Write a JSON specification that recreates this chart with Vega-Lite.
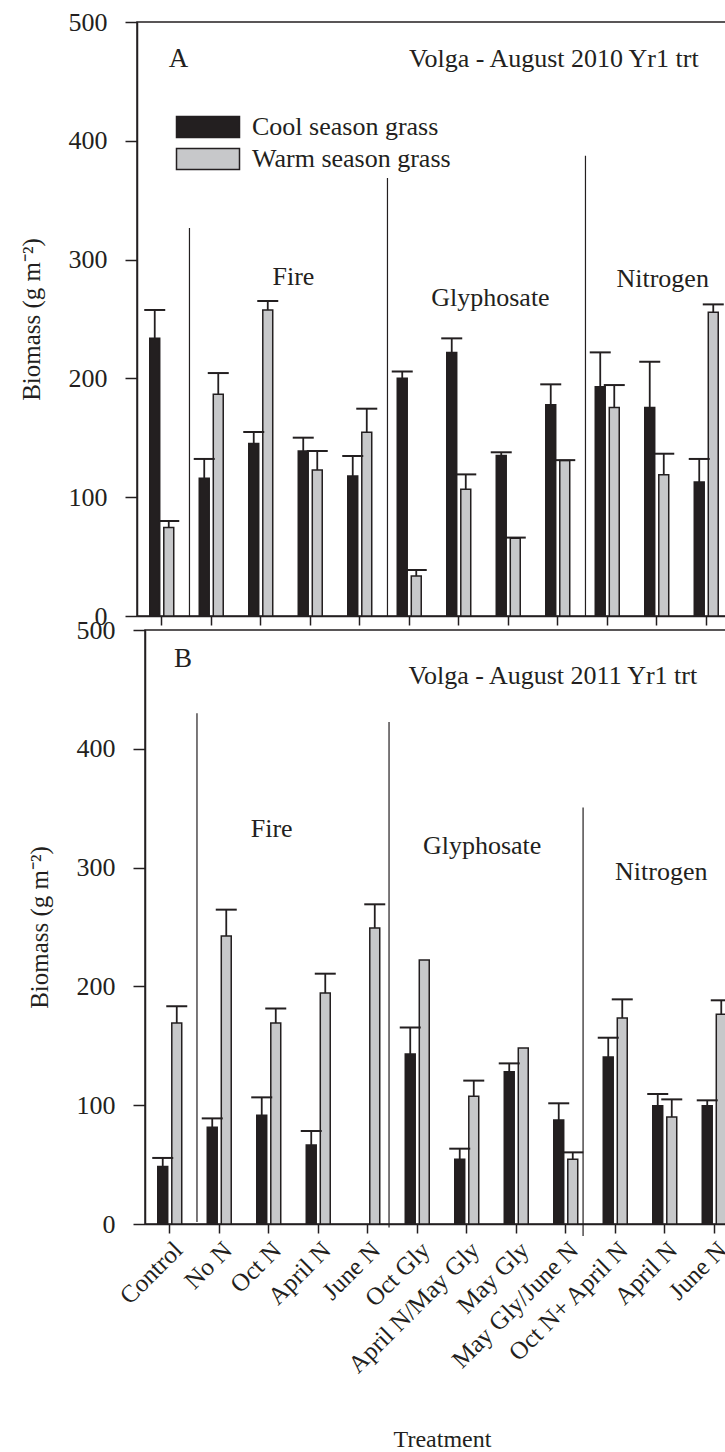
{
  "$schema": "https://vega.github.io/schema/vega-lite/v6.json",
  "padding": {"left": 18, "top": 8, "right": 0, "bottom": 0},
  "autosize": {"type": "pad"},
  "background": "white",
  "config": {
    "font": "Liberation Serif",
    "view": {"stroke": null},
    "axis": {
      "domainColor": "#231f20", "domainWidth": 1.5,
      "tickColor": "#231f20", "tickWidth": 1.5,
      "labelColor": "#231f20", "labelFont": "Liberation Serif", "labelFontSize": 26,
      "titleColor": "#231f20", "titleFont": "Liberation Serif", "titleFontSize": 25, "titleFontWeight": "normal",
      "grid": false
    }
  },
  "datasets": {
    "bars": [
      {"panel": "A", "cat": "Control", "grass": "Cool season grass", "mean": 233.7, "upper": 257.6},
      {"panel": "A", "cat": "Control", "grass": "Warm season grass", "mean": 74.6, "upper": 80},
      {"panel": "A", "cat": "No N", "grass": "Cool season grass", "mean": 115.9, "upper": 132.2},
      {"panel": "A", "cat": "No N", "grass": "Warm season grass", "mean": 186.6, "upper": 204.5},
      {"panel": "A", "cat": "Oct N", "grass": "Cool season grass", "mean": 145.1, "upper": 154.9},
      {"panel": "A", "cat": "Oct N", "grass": "Warm season grass", "mean": 257.6, "upper": 265.2},
      {"panel": "A", "cat": "April N", "grass": "Cool season grass", "mean": 138.9, "upper": 150.1},
      {"panel": "A", "cat": "April N", "grass": "Warm season grass", "mean": 122.9, "upper": 138.9},
      {"panel": "A", "cat": "June N", "grass": "Cool season grass", "mean": 117.8, "upper": 134.7},
      {"panel": "A", "cat": "June N", "grass": "Warm season grass", "mean": 154.6, "upper": 174.5},
      {"panel": "A", "cat": "Oct Gly", "grass": "Cool season grass", "mean": 200.1, "upper": 205.9},
      {"panel": "A", "cat": "Oct Gly", "grass": "Warm season grass", "mean": 33.7, "upper": 38.7},
      {"panel": "A", "cat": "April N/May Gly", "grass": "Cool season grass", "mean": 221.9, "upper": 233.7},
      {"panel": "A", "cat": "April N/May Gly", "grass": "Warm season grass", "mean": 106.6, "upper": 119.2},
      {"panel": "A", "cat": "May Gly", "grass": "Cool season grass", "mean": 135.2, "upper": 137.8},
      {"panel": "A", "cat": "May Gly", "grass": "Warm season grass", "mean": 65.4, "upper": 66},
      {"panel": "A", "cat": "May Gly/June N", "grass": "Cool season grass", "mean": 177.9, "upper": 195},
      {"panel": "A", "cat": "May Gly/June N", "grass": "Warm season grass", "mean": 130.8, "upper": 131.2},
      {"panel": "A", "cat": "Oct N+ April N", "grass": "Cool season grass", "mean": 193, "upper": 221.9},
      {"panel": "A", "cat": "Oct N+ April N", "grass": "Warm season grass", "mean": 175.6, "upper": 194.4},
      {"panel": "A", "cat": "April N ", "grass": "Cool season grass", "mean": 175.6, "upper": 214.1},
      {"panel": "A", "cat": "April N ", "grass": "Warm season grass", "mean": 119, "upper": 136.6},
      {"panel": "A", "cat": "June N ", "grass": "Cool season grass", "mean": 112.8, "upper": 132.2},
      {"panel": "A", "cat": "June N ", "grass": "Warm season grass", "mean": 255.6, "upper": 262.3},
      {"panel": "B", "cat": "Control", "grass": "Cool season grass", "mean": 48.3, "upper": 55.6},
      {"panel": "B", "cat": "Control", "grass": "Warm season grass", "mean": 169.2, "upper": 183.2},
      {"panel": "B", "cat": "No N", "grass": "Cool season grass", "mean": 81.4, "upper": 88.9},
      {"panel": "B", "cat": "No N", "grass": "Warm season grass", "mean": 242.4, "upper": 264.6},
      {"panel": "B", "cat": "Oct N", "grass": "Cool season grass", "mean": 91.5, "upper": 106.6},
      {"panel": "B", "cat": "Oct N", "grass": "Warm season grass", "mean": 169.2, "upper": 181.5},
      {"panel": "B", "cat": "April N", "grass": "Cool season grass", "mean": 66.5, "upper": 78.3},
      {"panel": "B", "cat": "April N", "grass": "Warm season grass", "mean": 194.4, "upper": 210.7},
      {"panel": "B", "cat": "June N", "grass": "Cool season grass", "mean": null, "upper": null},
      {"panel": "B", "cat": "June N", "grass": "Warm season grass", "mean": 249.2, "upper": 269.1},
      {"panel": "B", "cat": "Oct Gly", "grass": "Cool season grass", "mean": 143.1, "upper": 165.3},
      {"panel": "B", "cat": "Oct Gly", "grass": "Warm season grass", "mean": 222.2, "upper": null},
      {"panel": "B", "cat": "April N/May Gly", "grass": "Cool season grass", "mean": 54.4, "upper": 63.4},
      {"panel": "B", "cat": "April N/May Gly", "grass": "Warm season grass", "mean": 107.5, "upper": 120.7},
      {"panel": "B", "cat": "May Gly", "grass": "Cool season grass", "mean": 128.2, "upper": 135.2},
      {"panel": "B", "cat": "May Gly", "grass": "Warm season grass", "mean": 148.1, "upper": null},
      {"panel": "B", "cat": "May Gly/June N", "grass": "Cool season grass", "mean": 87.5, "upper": 101.6},
      {"panel": "B", "cat": "May Gly/June N", "grass": "Warm season grass", "mean": 54.4, "upper": 60.3},
      {"panel": "B", "cat": "Oct N+ April N", "grass": "Cool season grass", "mean": 140.6, "upper": 156.8},
      {"panel": "B", "cat": "Oct N+ April N", "grass": "Warm season grass", "mean": 173.4, "upper": 189.1},
      {"panel": "B", "cat": "April N ", "grass": "Cool season grass", "mean": 99.6, "upper": 109.4},
      {"panel": "B", "cat": "April N ", "grass": "Warm season grass", "mean": 90.1, "upper": 104.9},
      {"panel": "B", "cat": "June N ", "grass": "Cool season grass", "mean": 99.6, "upper": 104.1},
      {"panel": "B", "cat": "June N ", "grass": "Warm season grass", "mean": 176.5, "upper": 188.3}
    ],
    "seps": [
      {"panel": "A", "id": "a", "cat": "No N", "top": 326.6, "bottom": 0},
      {"panel": "A", "id": "a", "cat": "Oct Gly", "top": 368.7, "bottom": 0},
      {"panel": "A", "id": "a", "cat": "Oct N+ April N", "top": 387.5, "bottom": 0},
      {"panel": "B", "id": "b1", "cat": "No N", "top": 429.9, "bottom": 1.7},
      {"panel": "B", "id": "b2", "cat": "June N", "top": 422.6, "bottom": -3},
      {"panel": "B", "id": "b3", "cat": "May Gly/June N", "top": 350.5, "bottom": -10}
    ],
    "ann": [
      {"id": "A1", "label": "A", "cat": "Control", "y": 462},
      {"id": "A2", "label": "Volga - August 2010 Yr1 trt", "cat": "May Gly/June N", "y": 462},
      {"id": "A3", "label": "Fire", "cat": "April N", "y": 278.6},
      {"id": "A4", "label": "Glyphosate", "cat": "May Gly", "y": 261},
      {"id": "A5", "label": "Nitrogen", "cat": "April N ", "y": 277},
      {"id": "B1", "label": "B", "cat": "Control", "y": 468.9},
      {"id": "B2", "label": "Volga - August 2011 Yr1 trt", "cat": "May Gly/June N", "y": 454.6},
      {"id": "B3", "label": "Fire", "cat": "Oct N", "y": 325.8},
      {"id": "B4", "label": "Glyphosate", "cat": "April N/May Gly", "y": 311.8},
      {"id": "B5", "label": "Nitrogen", "cat": "April N ", "y": 289.3}
    ]
  },
  "bounds": "flush",
  "spacing": 14,
  "resolve": {
    "scale": {"x": "independent", "y": "independent", "xOffset": "independent", "color": "independent"},
    "legend": {"color": "independent"}
  },
  "vconcat": [
    {
      "width": 594,
      "height": 594,
      "view": {"stroke": "#231f20", "strokeWidth": 1.5},
      "layer": [
        {
          "data": {"name": "bars"},
          "transform": [{"filter": "datum.panel === 'A'"}],
          "mark": {"type": "bar", "stroke": "#231f20", "strokeWidth": 1.5},
          "encoding": {
            "x": {
              "field": "cat", "type": "nominal",
              "scale": {"domain": ["Control", "No N", "Oct N", "April N", "June N", "Oct Gly", "April N/May Gly", "May Gly", "May Gly/June N", "Oct N+ April N", "April N ", "June N "], "paddingInner": 0, "paddingOuter": 0},
              "axis": {"labels": false, "title": null, "tickSize": 9}
            },
            "xOffset": {"field": "grass", "type": "nominal", "scale": {"paddingInner": 0.29, "paddingOuter": 0.91}},
            "y": {
              "field": "mean", "type": "quantitative",
              "scale": {"domain": [0, 500], "nice": false},
              "axis": {"values": [0, 100, 200, 300, 400, 500], "title": "Biomass (g m⁻²)", "tickSize": 12, "labelPadding": 18, "titlePadding": 24}
            },
            "color": {
              "field": "grass", "type": "nominal",
              "scale": {"domain": ["Cool season grass", "Warm season grass"], "range": ["#231f20", "#c7c8ca"]},
              "legend": {
                "orient": "none", "legendX": 58, "legendY": 92, "title": null, "padding": 0,
                "symbolType": "M-3,-1H3V1H-3Z", "symbolSize": 441, "symbolStrokeColor": "#231f20", "symbolStrokeWidth": 1.5, "symbolOpacity": 1,
                "labelFont": "Liberation Serif", "labelFontSize": 26, "labelColor": "#231f20", "labelOffset": 31, "labelLimit": 400, "rowPadding": 4
              }
            }
          }
        },
        {
          "data": {"name": "bars"},
          "transform": [{"filter": "datum.panel === 'A' && datum.upper != null && datum.mean != null"}],
          "mark": {"type": "rule", "color": "#231f20", "strokeWidth": 1.8},
          "encoding": {
            "x": {"field": "cat", "type": "nominal"},
            "xOffset": {"field": "grass", "type": "nominal"},
            "y": {"field": "mean", "type": "quantitative"},
            "y2": {"field": "upper"}
          }
        },
        {
          "data": {"name": "bars"},
          "transform": [{"filter": "datum.panel === 'A' && datum.upper != null && datum.mean != null"}],
          "mark": {"type": "tick", "color": "#231f20", "thickness": 2, "size": 21, "orient": "horizontal", "opacity": 1},
          "encoding": {
            "x": {"field": "cat", "type": "nominal"},
            "xOffset": {"field": "grass", "type": "nominal"},
            "y": {"field": "upper", "type": "quantitative"}
          }
        },
        {
          "data": {"name": "seps"},
          "transform": [{"filter": "datum.panel === 'A'"}],
          "mark": {"type": "rule", "color": "#231f20", "strokeWidth": 1.2},
          "encoding": {
            "x": {"field": "cat", "type": "nominal", "bandPosition": 0.06},
            "y": {"field": "top", "type": "quantitative"},
            "y2": {"field": "bottom"}
          }
        },
        {
          "data": {"name": "ann"},
          "transform": [{"filter": "datum.id === 'A1'"}],
          "mark": {"type": "text", "fontSize": 27, "align": "center", "baseline": "alphabetic", "color": "#231f20"},
          "encoding": {"x": {"field": "cat", "type": "nominal", "bandPosition": 0.84}, "y": {"field": "y", "type": "quantitative"}, "text": {"field": "label"}}
        },
        {
          "data": {"name": "ann"},
          "transform": [{"filter": "datum.id === 'A2'"}],
          "mark": {"type": "text", "fontSize": 26, "align": "center", "baseline": "alphabetic", "color": "#231f20"},
          "encoding": {"x": {"field": "cat", "type": "nominal", "bandPosition": 0.42}, "y": {"field": "y", "type": "quantitative"}, "text": {"field": "label"}}
        },
        {
          "data": {"name": "ann"},
          "transform": [{"filter": "datum.id === 'A3'"}],
          "mark": {"type": "text", "fontSize": 26, "align": "center", "baseline": "alphabetic", "color": "#231f20"},
          "encoding": {"x": {"field": "cat", "type": "nominal", "bandPosition": 0.16}, "y": {"field": "y", "type": "quantitative"}, "text": {"field": "label"}}
        },
        {
          "data": {"name": "ann"},
          "transform": [{"filter": "datum.id === 'A4'"}],
          "mark": {"type": "text", "fontSize": 26, "align": "center", "baseline": "alphabetic", "color": "#231f20"},
          "encoding": {"x": {"field": "cat", "type": "nominal", "bandPosition": 0.14}, "y": {"field": "y", "type": "quantitative"}, "text": {"field": "label"}}
        },
        {
          "data": {"name": "ann"},
          "transform": [{"filter": "datum.id === 'A5'"}],
          "mark": {"type": "text", "fontSize": 26, "align": "center", "baseline": "alphabetic", "color": "#231f20"},
          "encoding": {"x": {"field": "cat", "type": "nominal", "bandPosition": 0.62}, "y": {"field": "y", "type": "quantitative"}, "text": {"field": "label"}}
        }
      ]
    },
    {
      "bounds": "flush",
      "spacing": 0,
      "resolve": {
        "scale": {"x": "independent", "y": "independent", "xOffset": "independent", "color": "independent"},
        "legend": {"color": "independent"}
      },
      "hconcat": [
        {
          "width": 8,
          "height": 594,
          "data": {"values": [{}]},
          "mark": {"type": "point", "opacity": 0},
          "encoding": {}
        },
        {
          "width": 594,
          "height": 594,
          "view": {"stroke": "#231f20", "strokeWidth": 1.5},
          "layer": [
            {
              "data": {"name": "bars"},
              "transform": [{"filter": "datum.panel === 'B'"}],
              "mark": {"type": "bar", "stroke": "#231f20", "strokeWidth": 1.5},
              "encoding": {
                "x": {
                  "field": "cat", "type": "nominal",
                  "scale": {"domain": ["Control", "No N", "Oct N", "April N", "June N", "Oct Gly", "April N/May Gly", "May Gly", "May Gly/June N", "Oct N+ April N", "April N ", "June N "], "paddingInner": 0, "paddingOuter": 0},
                  "axis": {"labelAngle": -45, "labelFontSize": 25, "labelLimit": 400, "tickSize": 9, "labelPadding": 4, "title": "Treatment", "titleFontSize": 24, "titlePadding": 50}
                },
                "xOffset": {"field": "grass", "type": "nominal", "scale": {"paddingInner": 0.29, "paddingOuter": 0.91}},
                "y": {
                  "field": "mean", "type": "quantitative",
                  "scale": {"domain": [0, 500], "nice": false},
                  "axis": {"values": [0, 100, 200, 300, 400, 500], "title": "Biomass (g m⁻²)", "tickSize": 12, "labelPadding": 18, "titlePadding": 24}
                },
                "color": {
                  "field": "grass", "type": "nominal",
                  "scale": {"domain": ["Cool season grass", "Warm season grass"], "range": ["#231f20", "#c7c8ca"]},
                  "legend": null
                }
              }
            },
            {
              "data": {"name": "bars"},
              "transform": [{"filter": "datum.panel === 'B' && datum.upper != null && datum.mean != null"}],
              "mark": {"type": "rule", "color": "#231f20", "strokeWidth": 1.8},
              "encoding": {
                "x": {"field": "cat", "type": "nominal"},
                "xOffset": {"field": "grass", "type": "nominal"},
                "y": {"field": "mean", "type": "quantitative"},
                "y2": {"field": "upper"}
              }
            },
            {
              "data": {"name": "bars"},
              "transform": [{"filter": "datum.panel === 'B' && datum.upper != null && datum.mean != null"}],
              "mark": {"type": "tick", "color": "#231f20", "thickness": 2, "size": 21, "orient": "horizontal", "opacity": 1},
              "encoding": {
                "x": {"field": "cat", "type": "nominal"},
                "xOffset": {"field": "grass", "type": "nominal"},
                "y": {"field": "upper", "type": "quantitative"}
              }
            },
            {
              "data": {"name": "seps"},
              "transform": [{"filter": "datum.id === 'b1'"}],
              "mark": {"type": "rule", "color": "#231f20", "strokeWidth": 1.2},
              "encoding": {
                "x": {"field": "cat", "type": "nominal", "bandPosition": 0.05},
                "y": {"field": "top", "type": "quantitative"},
                "y2": {"field": "bottom"}
              }
            },
            {
              "data": {"name": "seps"},
              "transform": [{"filter": "datum.id === 'b2'"}],
              "mark": {"type": "rule", "color": "#231f20", "strokeWidth": 1.2},
              "encoding": {
                "x": {"field": "cat", "type": "nominal", "bandPosition": 0.93},
                "y": {"field": "top", "type": "quantitative"},
                "y2": {"field": "bottom"}
              }
            },
            {
              "data": {"name": "seps"},
              "transform": [{"filter": "datum.id === 'b3'"}],
              "mark": {"type": "rule", "color": "#231f20", "strokeWidth": 1.2},
              "encoding": {
                "x": {"field": "cat", "type": "nominal", "bandPosition": 0.85},
                "y": {"field": "top", "type": "quantitative"},
                "y2": {"field": "bottom"}
              }
            },
            {
              "data": {"name": "ann"},
              "transform": [{"filter": "datum.id === 'B1'"}],
              "mark": {"type": "text", "fontSize": 27, "align": "center", "baseline": "alphabetic", "color": "#231f20"},
              "encoding": {"x": {"field": "cat", "type": "nominal", "bandPosition": 0.77}, "y": {"field": "y", "type": "quantitative"}, "text": {"field": "label"}}
            },
            {
              "data": {"name": "ann"},
              "transform": [{"filter": "datum.id === 'B2'"}],
              "mark": {"type": "text", "fontSize": 26, "align": "center", "baseline": "alphabetic", "color": "#231f20"},
              "encoding": {"x": {"field": "cat", "type": "nominal", "bandPosition": 0.24}, "y": {"field": "y", "type": "quantitative"}, "text": {"field": "label"}}
            },
            {
              "data": {"name": "ann"},
              "transform": [{"filter": "datum.id === 'B3'"}],
              "mark": {"type": "text", "fontSize": 26, "align": "center", "baseline": "alphabetic", "color": "#231f20"},
              "encoding": {"x": {"field": "cat", "type": "nominal", "bandPosition": 0.56}, "y": {"field": "y", "type": "quantitative"}, "text": {"field": "label"}}
            },
            {
              "data": {"name": "ann"},
              "transform": [{"filter": "datum.id === 'B4'"}],
              "mark": {"type": "text", "fontSize": 26, "align": "center", "baseline": "alphabetic", "color": "#231f20"},
              "encoding": {"x": {"field": "cat", "type": "nominal", "bandPosition": 0.81}, "y": {"field": "y", "type": "quantitative"}, "text": {"field": "label"}}
            },
            {
              "data": {"name": "ann"},
              "transform": [{"filter": "datum.id === 'B5'"}],
              "mark": {"type": "text", "fontSize": 26, "align": "center", "baseline": "alphabetic", "color": "#231f20"},
              "encoding": {"x": {"field": "cat", "type": "nominal", "bandPosition": 0.43}, "y": {"field": "y", "type": "quantitative"}, "text": {"field": "label"}}
            }
          ]
        }
      ]
    }
  ]
}
